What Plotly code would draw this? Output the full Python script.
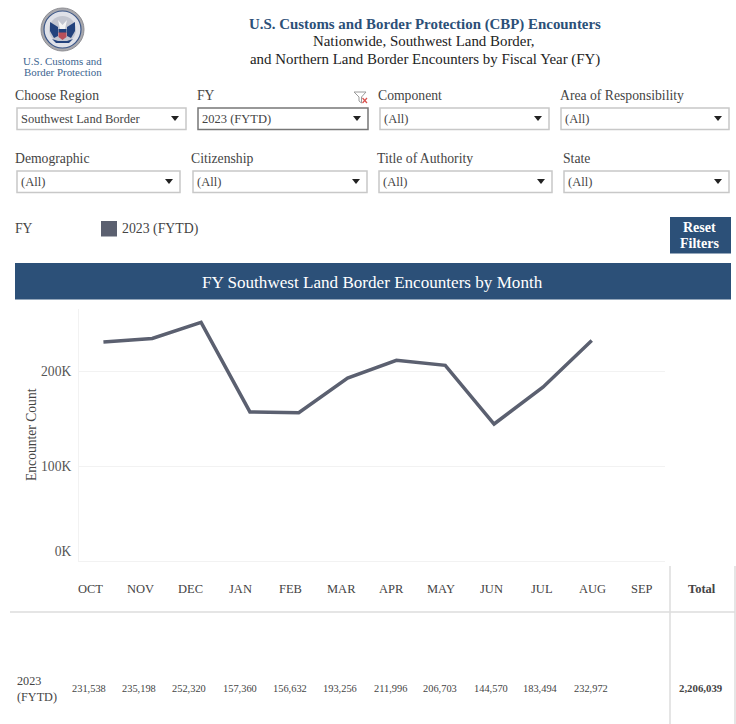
import plotly.graph_objects as go

W, H = 736, 724
months = ["OCT","NOV","DEC","JAN","FEB","MAR","APR","MAY","JUN","JUL","AUG","SEP"]
encounters = [231538,235198,252320,157360,156632,193256,211996,206703,144570,183494,232972,None]
series_name = "2023 (FYTD)"
total = 2206039
y_ticks = [0, 100000, 200000]
y_labels = ["0K<br>&nbsp;", "100K", "200K"]

top_filters = [("Choose Region","Southwest Land Border"),("FY","2023 (FYTD)"),("Component","(All)"),("Area of Responsibility","(All)")]
bottom_filters = [("Demographic","(All)"),("Citizenship","(All)"),("Title of Authority","(All)"),("State","(All)")]

NAVY = "#2c5078"
SERIES = "#5b6070"
TEXT = "#444444"
SERIF = "Liberation Serif"

def X(p): return p / W
def Y(p): return 1 - p / H

shapes, ann = [], []

def text(px, py, s, size=13, color=TEXT, anchor="left", bold=False):
    if bold: s = f"<b>{s}</b>"
    ann.append(dict(x=X(px), y=Y(py), xref="paper", yref="paper", text=s, showarrow=False,
                    xanchor=anchor, yanchor="middle", align=anchor, borderpad=0, borderwidth=0,
                    font=dict(family=SERIF, size=size, color=color)))

def rect(x0, y0, x1, y1, fill=None, line=None, lw=1, kind="rect"):
    shapes.append(dict(type=kind, xref="paper", yref="paper", x0=X(x0), x1=X(x1), y0=Y(y0), y1=Y(y1),
                       fillcolor=fill or "rgba(0,0,0,0)", line=dict(color=line or "rgba(0,0,0,0)", width=lw), layer="above"))

def hline(x0, x1, y, color="#dcdcdc", lw=1.5):
    shapes.append(dict(type="line", xref="paper", yref="paper", x0=X(x0), x1=X(x1), y0=Y(y), y1=Y(y),
                       line=dict(color=color, width=lw)))

def vline(x, y0, y1, color="#dcdcdc", lw=1.5):
    shapes.append(dict(type="line", xref="paper", yref="paper", x0=X(x), x1=X(x), y0=Y(y0), y1=Y(y1),
                       line=dict(color=color, width=lw)))

def poly(points, fill=None, line=None, lw=1):
    d = " ".join(("M" if i == 0 else "L") + f" {X(a)} {Y(b)}" for i, (a, b) in enumerate(points)) + " Z"
    shapes.append(dict(type="path", xref="paper", yref="paper", path=d, layer="above",
                       fillcolor=fill or "rgba(0,0,0,0)", line=dict(color=line or "rgba(0,0,0,0)", width=lw)))

def arrow(cx, cy):
    poly([(cx-4, cy-2.5), (cx+4, cy-2.5), (cx, cy+2.5)], "#222222")

# header
text(425, 24, "U.S. Customs and Border Protection (CBP) Encounters", 14.9, NAVY, "center", True)
text(423, 41.5, "Nationwide, Southwest Land Border,", 14.9, "#222222", "center")
text(425, 59, "and Northern Land Border Encounters by Fiscal Year (FY)", 14.9, "#222222", "center")

# seal
rect(41, 8, 84, 51, "#a8a8ad", "#8d8d92", 1, "circle")
rect(44, 11, 81, 48, "#dfe1e8", "#3a5688", 1.2, "circle")
rect(49, 16, 76, 43, "#c3c6d0", None, 0, "circle")
poly([(50, 22), (58, 27), (58, 36), (54, 38), (50, 31)], "#23427c")
poly([(75, 22), (67, 27), (67, 36), (71, 38), (75, 31)], "#23427c")
poly([(58, 20), (62.5, 25), (67, 20), (65, 29), (60, 29)], "#f4f4f4")
poly([(58.5, 32), (66.5, 32), (66.5, 37), (62.5, 40), (58.5, 37)], "#b9505a")
rect(58.5, 29, 66.5, 32.5, "#23427c", None, 0)
poly([(52, 39), (58, 41), (67, 41), (73, 39), (69, 43), (56, 43)], "#23427c")
text(62.5, 60.5, "U.S. Customs and", 10.9, "#3c6590", "center")
text(62.5, 71.5, "Border Protection", 10.9, "#3c6590", "center")

# filters
top_geo = [(15,17,186),(197,198,368),(378,380,549),(560,561,729)]
bot_geo = [(15,17,180),(191,193,367),(377,379,552),(563,564,729)]
for (label, val), (lx, x0, x1) in zip(top_filters, top_geo):
    text(lx, 95.5, label, 13.7)
    active = label == "FY"
    rect(x0, 108, x1, 129.5, "#ffffff", "#777777" if active else "#c8c8c8", 1.5)
    text(x0 + 4, 118.5, val, 12.5)
    arrow(x1 - 11, 118.5)
for (label, val), (lx, x0, x1) in zip(bottom_filters, bot_geo):
    text(lx, 158.5, label, 13.7)
    rect(x0, 171, x1, 192.5, "#ffffff", "#c8c8c8", 1.5)
    text(x0 + 4, 182, val, 12.5)
    arrow(x1 - 11, 181.5)

# clear-filter icon
poly([(354, 92), (366, 92), (361.5, 97), (361.5, 103), (359, 101), (359, 97)], None, "#9a9a9a", 1)
shapes.append(dict(type="line", xref="paper", yref="paper", x0=X(362.5), x1=X(367), y0=Y(98), y1=Y(103), line=dict(color="#d9534f", width=1.2)))
shapes.append(dict(type="line", xref="paper", yref="paper", x0=X(362.5), x1=X(367), y0=Y(103), y1=Y(98), line=dict(color="#d9534f", width=1.2)))

# legend row
text(15, 228.5, "FY", 13.7)
rect(101, 221, 117, 236.5, SERIES, None, 0)
text(122, 229, series_name, 13.8)
rect(670, 217, 731, 253.5, NAVY, None, 0)
text(699.5, 227.5, "Reset", 14, "#ffffff", "center", True)
text(699.5, 243, "Filters", 14, "#ffffff", "center", True)

# banner
rect(15, 263, 731, 299.5, NAVY, None, 0)
text(372.5, 282, "FY Southwest Land Border Encounters by Month", 17.1, "#ffffff", "center")

# y axis title
ann.append(dict(x=X(31), y=Y(435), xref="paper", yref="paper", text="Encounter Count", textangle=-90, showarrow=False,
                xanchor="center", yanchor="middle", borderpad=0, borderwidth=0,
                font=dict(family=SERIF, size=13.6, color=TEXT)))

# table
for i, m in enumerate(months):
    text(90 + i * 50.2, 588.5, m, 12.5, TEXT, "center")
    if encounters[i] is not None:
        text(89 + i * 50.2, 688, f"{encounters[i]:,}", 10.4, TEXT, "center")
text(701.5, 588.5, "Total", 12.5, TEXT, "center", True)
text(700.5, 688, f"{total:,}", 10.8, TEXT, "center", True)
text(17, 689, "2023<br>(FYTD)", 12.2, TEXT, "left")
hline(10, 735, 612)
vline(670, 566, 724)
vline(735, 566, 724)

fig = go.Figure(go.Scatter(x=months, y=encounters, mode="lines", name=series_name,
                           line=dict(color=SERIES, width=3.5), hoverinfo="skip", connectgaps=False))

fig.update_layout(
    width=W, height=H, margin=dict(l=0, r=0, t=0, b=0), paper_bgcolor="#ffffff", plot_bgcolor="#ffffff",
    showlegend=False, shapes=shapes, annotations=ann, font=dict(family=SERIF),
    xaxis=dict(domain=[X(79), X(665)], type="category", categoryorder="array", categoryarray=months,
               range=[-0.5, 11.5], showgrid=False, zeroline=False, showticklabels=False, ticks="",
               showline=True, linecolor="#f2f2f2", linewidth=1, anchor="y", fixedrange=True, automargin=False),
    yaxis=dict(domain=[Y(560.5), Y(309)], range=[0, 266400], tickvals=y_ticks, ticktext=y_labels,
               showgrid=True, gridcolor="#f2f2f2", gridwidth=1, zeroline=False, ticks="",
               showline=True, linecolor="#f2f2f2", linewidth=1, anchor="x", fixedrange=True, automargin=False,
               tickfont=dict(family=SERIF, size=13.6, color="#555555"), ticklabelstandoff=4),
)

fig.write_html("out.html", config=dict(displayModeBar=False),
               post_script="document.body.style.margin='0';document.body.style.overflow='hidden';")
